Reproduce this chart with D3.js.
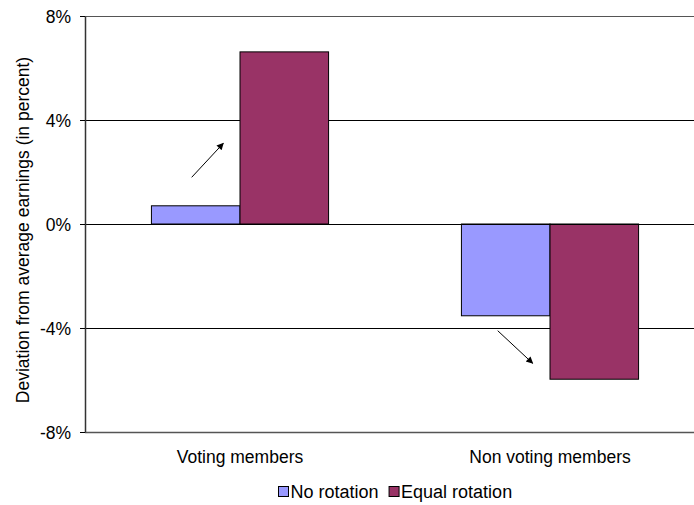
<!DOCTYPE html>
<html><head><meta charset="utf-8">
<script src="https://cdn.jsdelivr.net/npm/d3@7"></script>
<style>body{margin:0;background:#fff}svg{display:block}text{font-family:"Liberation Sans",Arial,sans-serif;fill:#000}</style>
</head><body><svg id="c" width="694" height="505"></svg>
<script>
const categories = ["Voting members", "Non voting members"];
const seriesNames = ["No rotation", "Equal rotation"];
const noRotation = [0.70, -3.53];
const equalRotation = [6.62, -5.97];
const yTicks = [-8, -4, 0, 4, 8];
const colors = ["#9999FF", "#993366"];

(function () {
const FS = 17.5;
const svg = d3.select("#c");
const pL = 85, pR = 705, pT = 16, pB = 432;
const y = d3.scaleLinear().domain([-8, 8]).range([pB, pT]);
const x0 = d3.scaleBand().domain(categories).range([pL, pR]).paddingInner(0).paddingOuter(0);
const x1 = d3.scaleBand().domain(seriesNames).range([0, x0.bandwidth()]).paddingInner(0).paddingOuter(0.75);

// gridlines
svg.append("g").selectAll("line").data(yTicks).join("line")
  .attr("x1", pL).attr("x2", 694)
  .attr("y1", d => Math.round(y(d)) + 0.5).attr("y2", d => Math.round(y(d)) + 0.5)
  .attr("stroke", d => (d === 8 || d === -8) ? "#555" : "#000").attr("stroke-width", d => d === -8 ? 1.5 : 1);

// bars
const data = categories.map((c, i) => ({c, vals: [noRotation[i], equalRotation[i]]}));
const g = svg.append("g");
data.forEach(d => {
  d.vals.forEach((v, j) => {
    g.append("rect")
      .attr("x", x0(d.c) + x1(seriesNames[j]))
      .attr("width", x1.bandwidth())
      .attr("y", y(Math.max(0, v)))
      .attr("height", Math.abs(y(v) - y(0)))
      .attr("fill", colors[j]).attr("stroke", "#000").attr("stroke-width", 1);
  });
});

// zero line above bars
svg.append("line").attr("x1", pL).attr("x2", 694).attr("y1", Math.round(y(0)) + 0.5).attr("y2", Math.round(y(0)) + 0.5).attr("stroke", "#000");

// y axis
const yAxis = d3.axisLeft(y).tickValues(yTicks).tickFormat(d => d + "%").tickSize(5).tickSizeOuter(0);
const ya = svg.append("g").attr("transform", `translate(${pL},0)`).call(yAxis);
ya.select(".domain").attr("stroke", "#333").attr("stroke-width", 1.5);
ya.selectAll(".tick line").attr("stroke", "#000");
ya.selectAll(".tick text").attr("font-size", FS).attr("font-family", "Liberation Sans, Arial, sans-serif").attr("fill", "#000").attr("x", -14).attr("dy", "0.35em");

// x labels
svg.append("g").selectAll("text").data(categories).join("text")
  .attr("x", d => x0(d) + x0.bandwidth() / 2).attr("y", 463)
  .attr("text-anchor", "middle").attr("font-size", FS).text(d => d);

// y title
svg.append("text").attr("transform", `translate(28.5,230) rotate(-90)`)
  .attr("text-anchor", "middle").attr("font-size", FS).text("Deviation from average earnings (in percent)");

// arrows
const defs = svg.append("defs");
defs.append("marker").attr("id", "ah").attr("viewBox", "0 0 10 10").attr("refX", 9).attr("refY", 5)
  .attr("markerWidth", 9).attr("markerHeight", 7).attr("markerUnits", "userSpaceOnUse").attr("orient", "auto")
  .append("path").attr("d", "M0,0L10,5L0,10Z").attr("fill", "#000");
const arrows = [[191.7, 177.3, 223.3, 143.3], [497.7, 330.7, 532.7, 363.3]];
svg.append("g").selectAll("line").data(arrows).join("line")
  .attr("x1", d => d[0]).attr("y1", d => d[1]).attr("x2", d => d[2]).attr("y2", d => d[3])
  .attr("stroke", "#000").attr("stroke-width", 1).attr("marker-end", "url(#ah)");

// legend
const lg = svg.append("g");
let cx = 278;
seriesNames.forEach((s, i) => {
  lg.append("rect").attr("x", cx + 0.5).attr("y", 486.5).attr("width", 10).attr("height", 10)
    .attr("fill", colors[i]).attr("stroke", "#000");
  const t = lg.append("text").attr("x", cx + 12.5).attr("y", 498).attr("font-size", 18).text(s);
  cx += 12.5 + t.node().getComputedTextLength() + 10;
});
})();
</script></body></html>
